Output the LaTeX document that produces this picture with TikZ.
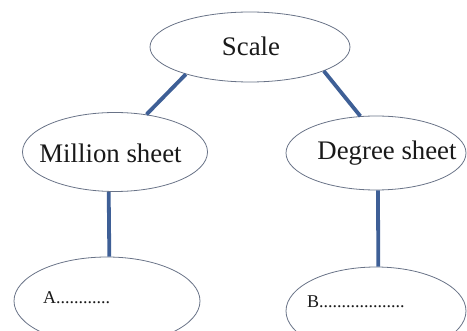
\documentclass[tikz,border=0pt]{standalone}
\usepackage{fontspec}
\setmainfont{Liberation Serif}
\usetikzlibrary{shapes.geometric}
\definecolor{linkblue}{RGB}{62,95,150}
\definecolor{rimgrey}{RGB}{105,115,135}
\definecolor{inkgrey}{RGB}{25,25,25}
\begin{document}
\begin{tikzpicture}[x=1pt,y=-1pt,
  oval/.style={draw=rimgrey, line width=0.8pt, ellipse, inner sep=0pt},
  link/.style={draw=linkblue, line width=3.8pt},
  bigtext/.style={text=inkgrey, font=\fontsize{26.8}{30}\selectfont},
  smalltext/.style={text=inkgrey, font=\fontsize{18}{21}\selectfont}]
\useasboundingbox (0,0) rectangle (467,331);
\clip (0,0) rectangle (467,331);
\node[oval, minimum width=200pt, minimum height=70pt] (scale) at (250,47) {};
\node[oval, minimum width=185pt, minimum height=79pt] (mill) at (115,152) {};
\node[oval, minimum width=180pt, minimum height=74pt] (deg) at (376,153) {};
\node[oval, minimum width=186pt, minimum height=88pt] (a) at (107,301) {};
\node[oval, minimum width=180pt, minimum height=88pt] (b) at (376,311) {};
\node[bigtext] (scalet) at (251,46) {Scale};
\node[bigtext] (millt) at (110.5,153) {Million sheet};
\node[bigtext] (degt) at (387,153) {Degree sheet};
\node[smalltext, anchor=west, inner sep=0pt] (at) at (43,298) {A............};
\node[smalltext, anchor=west, inner sep=0pt] (bt) at (307,302) {B...................};
\draw[link] (scale.203) -- (mill.50);
\draw[link] (scale.-18) -- (deg.113);
\draw[link] (mill.261) -- (a.87);
\draw[link] (deg.273) -- (b.87);
\end{tikzpicture}
\end{document}
